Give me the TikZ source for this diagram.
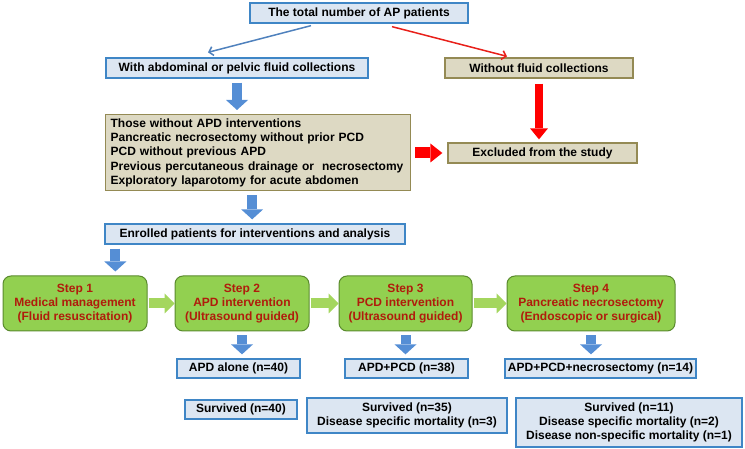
\documentclass[tikz,border=0pt]{standalone}
\usepackage{fontspec}
\setmainfont{Liberation Sans}
\usetikzlibrary{arrows.meta}
\definecolor{bfill}{HTML}{DCE6F2}
\definecolor{bdraw}{HTML}{3F86C6}
\definecolor{tfill}{HTML}{DDD9C3}
\definecolor{tdraw}{HTML}{948A54}
\definecolor{gfill}{HTML}{92D050}
\definecolor{gdraw}{HTML}{5A8A2E}
\definecolor{gtext}{HTML}{B01C0C}
\definecolor{barrow}{HTML}{558ED5}
\definecolor{garrow}{HTML}{A4D65E}
\definecolor{rarrow}{HTML}{FF0000}
\definecolor{thinblue}{HTML}{4F81BD}
\definecolor{thinred}{HTML}{E8201A}
\begin{document}
\begin{tikzpicture}[x=1pt,y=-1pt,
  every node/.style={font=\fontsize{12}{14}\selectfont\bfseries, inner sep=0pt},
  bluebox/.style={draw=bdraw, fill=bfill, line width=1.3pt, align=center},
  tanbox/.style={draw=tdraw, fill=tfill, line width=1.3pt, align=center},
  greenbox/.style={draw=gdraw, fill=gfill, line width=1pt, rounded corners=8pt, align=center, text=gtext, minimum height=55pt},
  blk/.style={draw=barrow, line width=10pt, shorten <=4pt, shorten >=4pt, -{Triangle[length=10pt,width=22pt,line width=0pt]}},
  grn/.style={draw=garrow, line width=10pt, shorten <=1pt, shorten >=0pt, -{Triangle[length=10pt,width=20pt,line width=0pt]}},
  redv/.style={draw=rarrow, line width=8pt, shorten <=5pt, shorten >=3pt, -{Triangle[length=11pt,width=18pt,line width=0pt]}},
  redh/.style={draw=rarrow, line width=11pt, shorten <=4pt, shorten >=5pt, -{Triangle[length=12pt,width=19pt,line width=0pt]}},
  thinb/.style={draw=thinblue, line width=1.5pt, -{Straight Barb[length=4pt,width=9pt]}},
  thinr/.style={draw=thinred, line width=1.5pt, -{Straight Barb[length=4pt,width=9pt]}}
]
\useasboundingbox (0,0) rectangle (745,449);

\node[bluebox, minimum width=218pt, minimum height=20pt] (total) at (359,13) {The total number of AP patients};
\node[bluebox, minimum width=262pt, minimum height=20pt] (with) at (237,68) {With abdominal or pelvic fluid collections};
\node[tanbox, minimum width=188pt, minimum height=20pt] (without) at (539,68) {Without fluid collections};
\node[tanbox, anchor=north west, text width=295pt, inner xsep=5pt, minimum height=76pt, align=left,
      font=\fontsize{12}{14.3}\selectfont\bfseries] (beige) at (105,114)
  {Those without APD interventions\\
   Pancreatic necrosectomy without prior PCD\\
   PCD without previous APD\\
   Previous percutaneous drainage or \ necrosectomy\\
   Exploratory laparotomy for acute abdomen};
\node[tanbox, minimum width=189pt, minimum height=20pt] (excl) at (542.5,153) {Excluded from the study};
\node[bluebox, minimum width=300pt, minimum height=20pt] (enrol) at (255,234) {Enrolled patients for interventions and analysis};

\node[greenbox, minimum width=144pt] (s1) at (75,303.5) {Step 1\\Medical management\\(Fluid resuscitation)};
\node[greenbox, minimum width=134pt] (s2) at (242,303.5) {Step 2\\APD intervention\\(Ultrasound guided)};
\node[greenbox, minimum width=133pt] (s3) at (405.5,303.5) {Step 3\\PCD intervention\\(Ultrasound guided)};
\node[greenbox, minimum width=168pt] (s4) at (591,303.5) {Step 4\\Pancreatic necrosectomy\\(Endoscopic or surgical)};

\node[bluebox, minimum width=123pt, minimum height=19pt] (apd) at (238.5,368.5) {APD alone (n=40)};
\node[bluebox, minimum width=123pt, minimum height=19pt] (pcd) at (406.5,368.5) {APD+PCD (n=38)};
\node[bluebox, minimum width=191pt, minimum height=19pt] (nec) at (600.5,368.5) {APD+PCD+necrosectomy (n=14)};

\node[bluebox, minimum width=112pt, minimum height=19pt] (sv1) at (241,409.5) {Survived (n=40)};
\node[bluebox, minimum width=200pt, minimum height=35pt] (sv2) at (407,415.5) {Survived (n=35)\\Disease specific mortality (n=3)};
\node[bluebox, minimum width=226pt, minimum height=49pt] (sv3) at (629,422.5) {Survived (n=11)\\Disease specific mortality (n=2)\\Disease non-specific mortality (n=1)};

% thin arrows
\draw[thinb] ([xshift=-48pt,yshift=-2pt]total.south) -- ([xshift=-29pt,yshift=5pt]with.north);
\draw[thinr] ([xshift=33pt,yshift=-3pt]total.south) -- ([xshift=-32pt,yshift=1pt]without.north);

% block arrows
\draw[blk] (with.south) -- (with.south |- beige.north);
\draw[redv] (without.south) -- (without.south |- excl.north);
\draw[redh] (beige.east |- excl.west) -- (excl.west);
\draw[blk] ([xshift=-6pt]beige.south) -- ([xshift=-6pt]beige.south |- enrol.north);
\coordinate (e1) at ([xshift=11pt]enrol.south west);
\draw[blk] (e1) -- (e1 |- s1.north);
\draw[grn] (s1.east) -- (s2.west);
\draw[grn] (s2.east) -- (s3.west);
\draw[grn] (s3.east) -- (s4.west);
\draw[blk] (s2.south) -- (s2.south |- apd.north);
\draw[blk] (s3.south) -- (s3.south |- pcd.north);
\draw[blk] (s4.south) -- (s4.south |- nec.north);
\end{tikzpicture}
\end{document}
